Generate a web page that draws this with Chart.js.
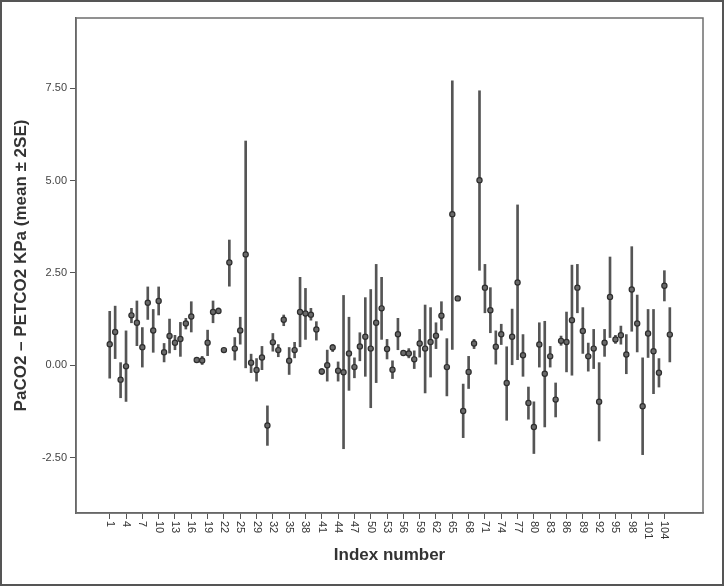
<!DOCTYPE html>
<html>
<head>
<meta charset="utf-8">
<script src="https://cdn.jsdelivr.net/npm/chart.js@4.4.1/dist/chart.umd.min.js"></script>
<style>
  html, body { margin: 0; padding: 0; background: #ffffff; }
  #c { display: block; }
</style>
</head>
<body>
<canvas id="c" width="724" height="586"></canvas>
<script>
// ---- data ----
const categories = [1,2,3,4,5,6,7,8,9,10,11,12,13,14,15,16,17,18,19,20,21,22,23,24,25,
  27,28,29,30,31,32,33,34,35,36,37,38,39,40,41,42,43,44,45,46,47,48,49,50,51,52,53,54,55,56,57,58,59,60,
  61,62,63,64,65,66,67,68,69,70,71,72,73,74,75,76,77,78,79,80,81,82,83,84,85,86,87,88,89,90,
  91,92,93,94,95,96,97,98,99,100,101,102,103,104,105];

const means = [0.57,0.90,-0.39,-0.03,1.35,1.15,0.49,1.69,0.94,1.74,0.35,0.79,0.61,0.71,1.13,1.32,0.14,0.13,0.61,1.44,
  1.47,0.41,2.78,0.45,0.94,3.00,0.07,-0.13,0.21,-1.63,0.62,0.41,1.23,0.12,0.41,1.44,1.40,1.37,0.97,-0.17,
  0.00,0.48,-0.15,-0.19,0.32,-0.05,0.51,0.77,0.45,1.15,1.54,0.44,-0.12,0.84,0.33,0.32,0.16,0.59,0.45,0.63,
  0.80,1.34,-0.05,4.09,1.81,-1.24,-0.18,0.59,5.01,2.10,1.49,0.50,0.84,-0.48,0.77,2.24,0.27,-1.02,-1.67,0.56,
  -0.23,0.24,-0.93,0.66,0.63,1.22,2.10,0.93,0.24,0.45,-0.99,0.61,1.85,0.70,0.81,0.29,2.05,1.13,-1.11,0.86,
  0.38,-0.20,2.15,0.83];

const upper = [1.46,1.60,0.07,0.93,1.54,1.74,1.02,2.12,1.51,2.12,0.59,1.25,0.81,1.16,1.27,1.72,0.18,0.24,0.95,1.74,
  1.55,0.44,3.39,0.75,1.30,6.07,0.30,0.18,0.51,-1.10,0.86,0.56,1.36,0.48,0.62,2.38,2.08,1.54,1.18,-0.09,
  0.41,0.56,0.09,1.89,1.30,0.20,0.88,1.83,2.05,2.73,2.38,0.70,0.12,1.27,0.36,0.45,0.39,0.97,1.63,1.56,
  1.15,1.72,0.72,7.70,1.86,-0.51,0.24,0.70,7.43,2.73,2.10,0.93,1.11,0.50,1.52,4.34,0.83,-0.59,-0.99,1.15,
  1.19,0.51,-0.48,0.79,1.44,2.71,2.73,1.56,0.60,0.97,0.07,0.97,2.93,0.81,1.06,0.83,3.21,1.90,0.20,1.51,
  1.51,0.18,2.56,1.56];

const lower = [-0.35,0.18,-0.88,-0.98,1.15,0.53,-0.05,1.24,0.35,1.36,0.09,0.33,0.42,0.24,0.98,0.90,0.10,0.02,0.26,1.15,
  1.40,0.38,2.14,0.14,0.57,-0.07,-0.20,-0.43,-0.12,-2.17,0.38,0.23,1.07,-0.25,0.20,0.50,0.70,1.22,0.68,-0.25,
  -0.43,0.37,-0.43,-2.26,-0.68,-0.34,0.12,-0.30,-1.15,-0.47,0.70,0.17,-0.36,0.42,0.30,0.20,-0.09,0.22,-0.75,-0.32,
  0.45,0.95,-0.83,0.43,1.76,-1.96,-0.63,0.45,2.57,1.42,0.88,0.03,0.56,-1.49,0.00,0.15,-0.30,-1.46,-2.39,-0.05,
  -1.67,-0.05,-1.40,0.54,-0.18,-0.27,1.42,0.32,-0.16,-0.09,-2.05,0.24,0.75,0.59,0.57,-0.23,0.92,0.36,-2.42,0.21,
  -0.77,-0.59,1.74,0.09];

const xTickLabels = [1,4,7,10,13,16,19,22,25,29,32,35,38,41,44,47,50,53,56,59,62,65,68,71,74,77,80,83,86,89,92,95,98,101,104];
const yTickValues = [-2.5, 0, 2.5, 5, 7.5];

const xTitle = 'Index number';
const yTitle = 'PaCO2 \u2013 PETCO2 KPa (mean \u00B1 2SE)';

// ---- build datasets ----
const barData = categories.map((c, i) => ({ x: i + 1, y: [lower[i], upper[i]] }));
const pointData = categories.map((c, i) => ({ x: i + 1, y: means[i] }));

const FONT = '"Liberation Sans", Arial, Helvetica, sans-serif';

const frameAndLabels = {
  id: 'frameAndLabels',
  beforeDraw(chart) {
    const ctx = chart.ctx;
    ctx.save();
    ctx.fillStyle = '#ffffff';
    ctx.fillRect(0, 0, chart.width, chart.height);
    ctx.restore();
  },
  afterDraw(chart) {
    const ctx = chart.ctx;
    const a = chart.chartArea;
    const xs = chart.scales.x;
    ctx.save();
    // plot frame
    ctx.strokeStyle = '#6e6e6e';
    ctx.lineWidth = 1.5;
    ctx.strokeRect(a.left, a.top, a.right - a.left, a.bottom - a.top);
    // outer picture border
    ctx.strokeStyle = '#555555';
    ctx.lineWidth = 2;
    ctx.strokeRect(1, 1, chart.width - 2, chart.height - 2);
    // rotated x tick labels (reading top to bottom)
    ctx.fillStyle = '#333333';
    ctx.font = '11px ' + FONT;
    ctx.textAlign = 'left';
    ctx.textBaseline = 'middle';
    xTickLabels.forEach(lbl => {
      const pos = categories.indexOf(lbl) + 1;
      const px = xs.getPixelForValue(pos);
      ctx.save();
      ctx.translate(px, a.bottom + 8);
      ctx.rotate(Math.PI / 2);
      ctx.fillText(String(lbl), 0, 0);
      ctx.restore();
    });
    ctx.restore();
  }
};

new Chart(document.getElementById('c'), {
  type: 'bar',
  data: {
    datasets: [
      {
        type: 'scatter',
        data: pointData,
        pointRadius: 2.6,
        pointBackgroundColor: '#6a6a6a',
        pointBorderColor: '#2e2e2e',
        pointBorderWidth: 1.2,
        order: 0
      },
      {
        type: 'bar',
        data: barData,
        backgroundColor: '#555555',
        borderWidth: 0,
        barThickness: 2,
        grouped: false,
        order: 1
      }
    ]
  },
  plugins: [frameAndLabels],
  options: {
    responsive: false,
    animation: false,
    devicePixelRatio: 1,
    layout: { padding: { left: 0, top: 18, right: 21, bottom: 0 } },
    plugins: { legend: { display: false }, tooltip: { enabled: false } },
    scales: {
      x: {
        type: 'linear',
        min: -5.2,
        max: 110.1,
        offset: false,
        afterBuildTicks(scale) {
          scale.ticks = xTickLabels.map(l => ({ value: categories.indexOf(l) + 1 }));
        },
        afterFit(scale) { scale.height = 73; },
        grid: { display: true, drawOnChartArea: false, drawTicks: true, tickLength: 6, color: '#555555', offset: false },
        border: { display: true, color: '#555555', width: 1.5 },
        ticks: { display: false, autoSkip: false },
        title: {
          display: true,
          text: xTitle,
          color: '#333333',
          font: { family: FONT, size: 17, weight: 'bold' },
          padding: { top: 0, bottom: 20 }
        }
      },
      y: {
        type: 'linear',
        min: -4.0,
        max: 9.4,
        afterBuildTicks(scale) {
          scale.ticks = yTickValues.map(v => ({ value: v }));
        },
        afterFit(scale) { scale.width = 76; },
        grid: { display: true, drawOnChartArea: false, drawTicks: true, tickLength: 6, color: '#555555' },
        border: { display: true, color: '#555555', width: 1.5 },
        ticks: {
          color: '#444444',
          font: { family: FONT, size: 11 },
          padding: 3,
          callback: v => Number(v).toFixed(2)
        },
        title: {
          display: true,
          text: yTitle,
          color: '#333333',
          font: { family: FONT, size: 17, weight: 'bold' },
          padding: { top: 11, bottom: 0 }
        }
      }
    }
  }
});
</script>
</body>
</html>
